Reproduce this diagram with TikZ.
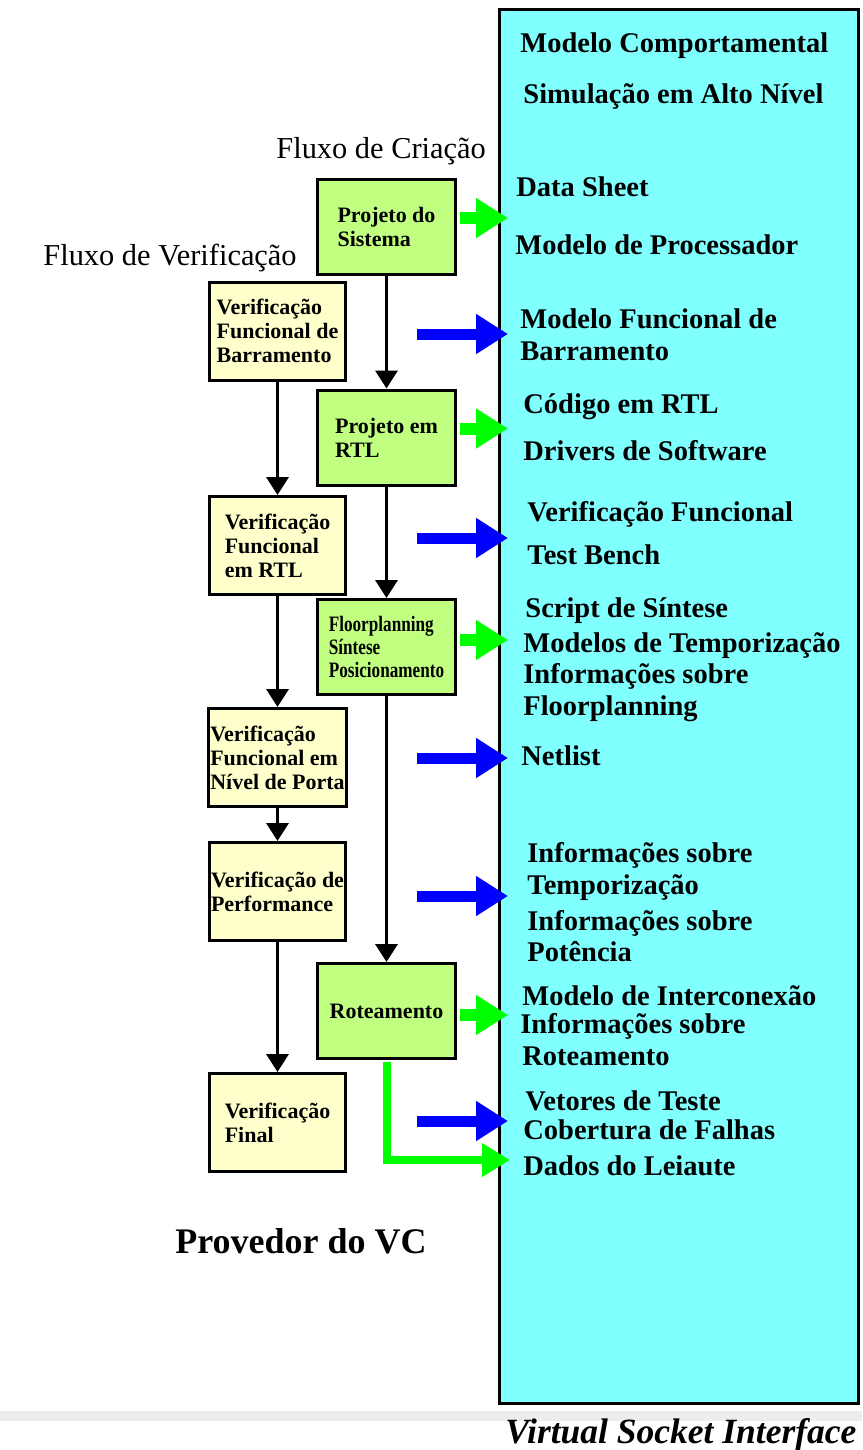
\documentclass[tikz,border=0pt]{standalone}
\usepackage{fontspec}
\setmainfont{Liberation Serif}
\newfontfamily\narrowfont{Liberation Serif}[FakeStretch=0.78]
\usetikzlibrary{arrows.meta, calc}
\definecolor{vsicol}{HTML}{80FFFF}
\definecolor{crcol}{HTML}{C0FF80}
\definecolor{vfcol}{HTML}{FFFFCC}
\definecolor{garrcol}{HTML}{00FF00}
\definecolor{barrcol}{HTML}{0000FF}

\begin{document}
\begin{tikzpicture}[
    x=0.5pt, y=-0.5pt,
    boxfont/.style={font=\fontsize{11}{12}\selectfont\bfseries},
    crbox/.style={draw, line width=1.5pt, fill=crcol, minimum width=69pt,
                  minimum height=47.5pt, align=left, inner sep=1pt, boxfont},
    vfbox/.style={draw, line width=1.5pt, fill=vfcol, minimum width=68pt,
                  minimum height=49pt, align=left, inner sep=1pt, boxfont},
    flow/.style={-{Triangle[width=11pt, length=9pt]}, line width=1.75pt},
    gout/.style={-{Triangle[width=19pt, length=16pt]}, line width=6pt, garrcol},
    bout/.style={-{Triangle[width=19pt, length=16pt]}, line width=5.5pt, barrcol},
    vsitxt/.style={anchor=base west, inner sep=0pt,
                   font=\fontsize{14.25}{16}\selectfont\bfseries},
    flowlabel/.style={anchor=base west, inner sep=0pt,
                      font=\fontsize{15.2}{17}\selectfont}
  ]

  % ---- page and background ----
  \useasboundingbox (0,0) rectangle (862,1450);
  \fill[white] (0,0) rectangle (862,1450);
  \fill[black!7] (0,1411) rectangle (862,1421);

  % ---- Virtual Socket Interface ----
  \node[draw, line width=1.5pt, fill=vsicol, minimum width=179.5pt,
        minimum height=697pt] (vsi) at (679,706.5) {};
  \node[anchor=base west, inner sep=0pt,
        font=\fontsize{17.75}{20}\selectfont\bfseries\itshape]
    (vsilabel) at (505,1443) {Virtual Socket Interface};

  \foreach \x/\y/\t [count=\n] in {
      520/53/Modelo Comportamental,
      523/104/Simulação em Alto Nível,
      516/196/Data Sheet,
      515/254/Modelo de Processador,
      520/328/Modelo Funcional de,
      520/360/Barramento,
      523/413/Código em RTL,
      523/460/Drivers de Software,
      527/521/Verificação Funcional,
      527/564/Test Bench,
      525/617/Script de Síntese,
      523/652/Modelos de Temporização,
      523/683/Informações sobre,
      523/715/Floorplanning,
      521/765/Netlist,
      527/862/Informações sobre,
      527/894/Temporização,
      527/930/Informações sobre,
      527/961/Potência,
      522/1005/Modelo de Interconexão,
      520/1033/Informações sobre,
      522/1065/Roteamento,
      525/1110/Vetores de Teste,
      523/1139/Cobertura de Falhas,
      523/1175/Dados do Leiaute} {
    \node[vsitxt] (vsi-\n) at (\x,\y) {\t};
  }

  % ---- flow labels ----
  \node[flowlabel] (crlabel) at (276,158) {Fluxo de Criação};
  \node[flowlabel] (vflabel) at (43,265) {Fluxo de Verificação};
  \node[anchor=base west, inner sep=0pt, font=\fontsize{18}{20}\selectfont\bfseries]
    (provider) at (175,1253) {Provedor do VC};

  % ---- creation flow ----
  \node[crbox] (psis) at (386.5,227) {Projeto do\\Sistema};
  \node[crbox] (prtl) at (386.5,437.5) {Projeto em\\RTL};
  \node[crbox, font=\fontsize{11}{11.5}\selectfont\narrowfont\bfseries]
    (pfloor) at (386.5,647) {Floorplanning\\Síntese\\Posicionamento};
  \node[crbox] (prot) at (386.5,1011) {Roteamento};

  \draw[flow] (psis) -- (prtl);
  \draw[flow] (prtl) -- (pfloor);
  \draw[flow] (pfloor) -- (prot);

  % ---- verification flow ----
  \node[vfbox] (vbus) at (277.5,331) {Verificação\\Funcional de\\Barramento};
  \node[vfbox] (vrtl) at (277.5,545.5) {Verificação\\Funcional\\em RTL};
  \node[vfbox] (vgate) at (277.5,757.5) {Verificação\\Funcional em\\Nível de Porta};
  \node[vfbox] (vperf) at (277.5,891.5) {Verificação de\\Performance};
  \node[vfbox] (vfinal) at (277.5,1122.5) {Verificação\\Final};

  \draw[flow] (vbus) -- (vrtl);
  \draw[flow] (vrtl) -- (vgate);
  \draw[flow] (vgate) -- (vperf);
  \draw[flow] (vperf) -- (vfinal);

  % ---- deliverables to the interface ----
  \draw[gout] ($(psis.east)+(3,-9)$) -- ($(psis.east -| vsi.west)+(10,-9)$);
  \draw[gout] ($(prtl.east)+(3,-9)$) -- ($(prtl.east -| vsi.west)+(10,-9)$);
  \draw[gout] ($(pfloor.east)+(3,-7)$) -- ($(pfloor.east -| vsi.west)+(10,-7)$);
  \draw[gout] ($(prot.east)+(3,4)$) -- ($(prot.east -| vsi.west)+(10,4)$);
  \coordinate (layin) at (510,1160);
  \draw[gout, line width=4pt, -{Triangle[width=16pt, length=14pt]},
        shorten <=0.75pt] (prot.south) |- (layin);

  \foreach \y [count=\n] in {334,538,758,896,1121} {
    \coordinate (bsrc-\n) at (417,\y);
    \draw[bout] (bsrc-\n) -- ($(bsrc-\n -| vsi.west)+(10,0)$);
  }

\end{tikzpicture}
\end{document}
